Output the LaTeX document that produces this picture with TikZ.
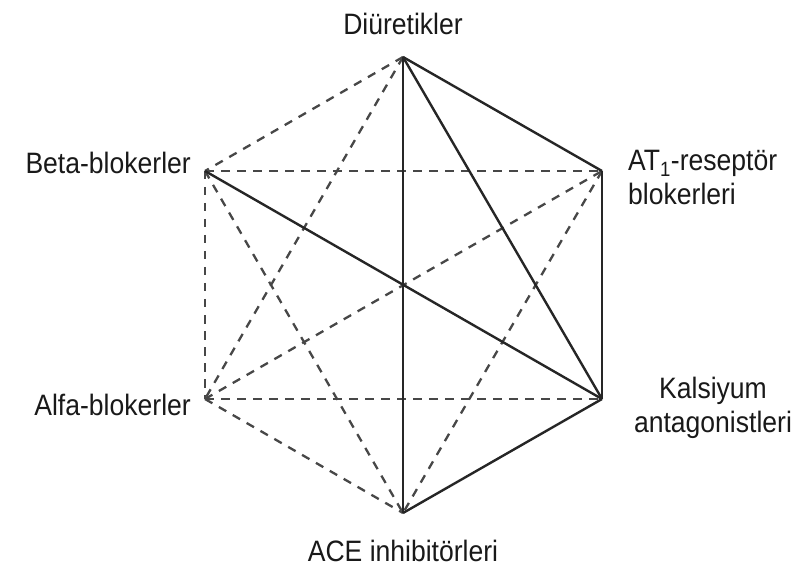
\documentclass[tikz,border=0pt]{standalone}
\usepackage{fontspec}
\setmainfont{Liberation Sans}[FakeStretch=0.9]
\begin{document}
\begin{tikzpicture}[x=1pt,y=-1pt,
  lbl/.style={font=\fontsize{29.5}{34}\selectfont, text=black!90, inner sep=0pt, align=left},
  solidedge/.style={draw=black!85, line width=2.4pt},
  dashedge/.style={draw=black!72, line width=2.3pt, dash pattern=on 8.5pt off 7.5pt}]
\useasboundingbox (0,0) rectangle (803,577);
\coordinate (D) at (403,57);
\coordinate (AT) at (602,171);
\coordinate (K) at (602,399);
\coordinate (ACE) at (403,513);
\coordinate (A) at (205,399);
\coordinate (B) at (205,171);
% dashed
\draw[dashedge] (D) -- (B);
\draw[dashedge] (D) -- (A);
\draw[dashedge] (B) -- (AT);
\draw[dashedge] (B) -- (A);
\draw[dashedge] (B) -- (ACE);
\draw[dashedge] (A) -- (AT);
\draw[dashedge] (A) -- (K);
\draw[dashedge] (A) -- (ACE);
\draw[dashedge] (AT) -- (ACE);
% solid
\draw[solidedge] (D) -- (AT);
\draw[solidedge] (D) -- (ACE);
\draw[solidedge] (D) -- (K);
\draw[solidedge] (B) -- (K);
\draw[solidedge] (K) -- (ACE);
\draw[solidedge] (AT) -- (K);
% labels
\node[lbl] (lD) at (403,24) {Diüretikler};
\node[lbl, anchor=east] (lB) at (191,163) {Beta-blokerler};
\node[lbl, anchor=north west] (lAT) at (628,150) {AT\textsubscript{1}-reseptör\\blokerleri};
\node[lbl, align=center] (lK) at (713,408) {Kalsiyum\\antagonistleri};
\node[lbl, anchor=east] (lA) at (191,405) {Alfa-blokerler};
\node[lbl] (lACE) at (403,551) {ACE inhibitörleri};
\end{tikzpicture}
\end{document}
